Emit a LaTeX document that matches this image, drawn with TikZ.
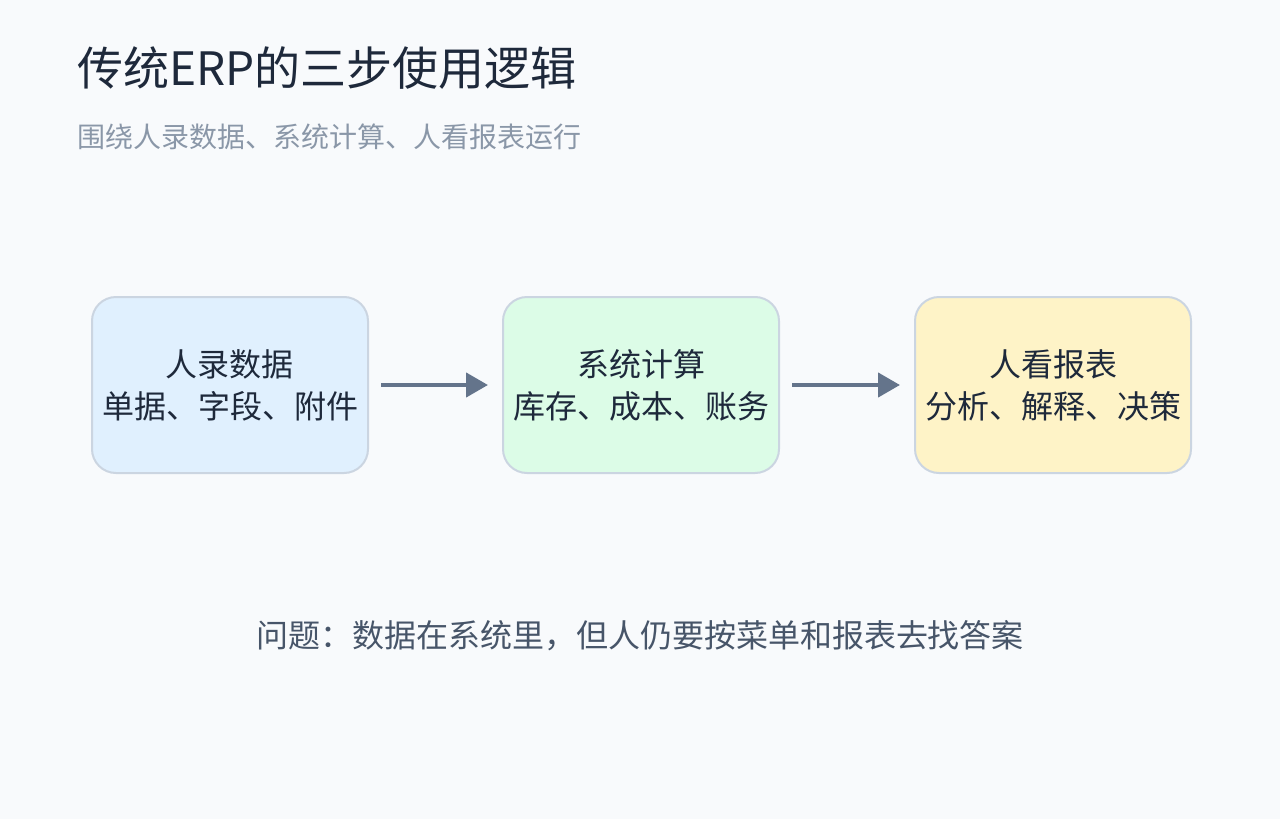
\documentclass[tikz,border=0pt]{standalone}
\usepackage{fontspec}
\setmainfont{Noto Sans CJK SC}
\usetikzlibrary{arrows.meta}
\definecolor{bg}{HTML}{F8FAFC}
\definecolor{bd}{HTML}{CBD5E1}
\definecolor{ar}{HTML}{64748B}
\definecolor{sub}{HTML}{8A97A8}
\definecolor{tx}{HTML}{1E293B}
\definecolor{bt}{HTML}{475569}
\definecolor{f1}{HTML}{E0F0FE}
\definecolor{f2}{HTML}{DCFCE7}
\definecolor{f3}{HTML}{FEF3C7}
\begin{document}
\begin{tikzpicture}[x=0.5pt,y=-0.5pt,
 box/.style={draw=bd,line width=1pt,rounded corners=12pt,minimum width=138pt,minimum height=88pt,align=center,font=\fontsize{16pt}{21pt}\selectfont,text=tx},
 arr/.style={draw=ar,line width=2.2pt,-{Triangle[length=11pt,width=12pt]}}]
\fill[bg] (0,0) rectangle (1280,819);
\useasboundingbox (0,0) rectangle (1280,819);
\node[anchor=west,text=tx,font=\fontsize{23pt}{28pt}\selectfont] (title) at (70,68) {传统ERP的三步使用逻辑};
\node[anchor=west,text=sub,font=\fontsize{14pt}{17pt}\selectfont] (subtitle) at (70,137) {围绕人录数据、系统计算、人看报表运行};
\node[box,fill=f1] (b1) at (230,385) {人录数据\\单据、字段、附件};
\node[box,fill=f2] (b2) at (641,385) {系统计算\\库存、成本、账务};
\node[box,fill=f3] (b3) at (1053,385) {人看报表\\分析、解释、决策};
\draw[arr] ([xshift=6pt]b1.east) -- ([xshift=-7pt]b2.west);
\draw[arr] ([xshift=6pt]b2.east) -- ([xshift=-7pt]b3.west);
\node[text=bt,font=\fontsize{16pt}{20pt}\selectfont] (note) at (640,636) {问题：数据在系统里，但人仍要按菜单和报表去找答案};
\end{tikzpicture}
\end{document}
